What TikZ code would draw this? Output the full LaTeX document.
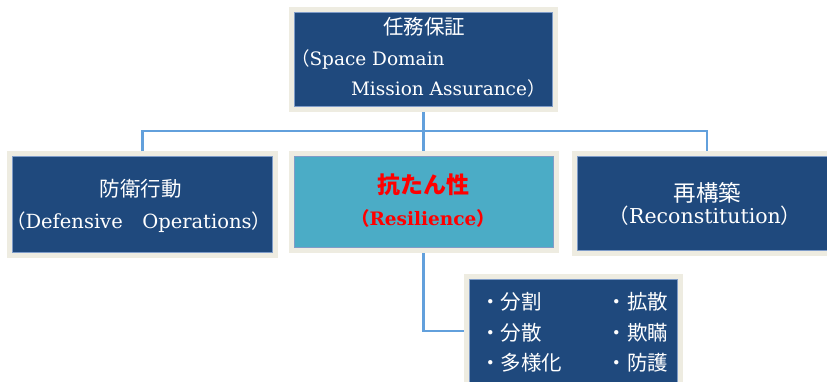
\documentclass[tikz,border=0pt]{standalone}
\usepackage{fontspec}
\setmainfont{DejaVu Serif}
\newfontfamily\jp{Noto Sans CJK JP}
\definecolor{boxblue}{HTML}{1F497D}
\definecolor{frameC}{HTML}{EEECE1}
\definecolor{tealC}{HTML}{4BACC6}
\definecolor{connC}{HTML}{62A0DC}
\definecolor{innerC}{HTML}{7F9CC8}
\begin{document}
\begin{tikzpicture}[x=1pt,y=-1pt,
  frm/.style={draw=frameC, line width=5pt, inner sep=0pt, outer sep=2.5pt,
    path picture={\draw[innerC, line width=0.8pt] ([shift={(3pt,-3pt)}]path picture bounding box.north west) rectangle ([shift={(-3pt,3pt)}]path picture bounding box.south east);}},
  bluebox/.style={frm, fill=boxblue},
  tealbox/.style={frm, fill=tealC},
  txt/.style={inner sep=0pt, outer sep=0pt, text=white},
  conn/.style={draw=connC, line width=2.5pt}]
\clip (0,0) rectangle (827,381);
\fill[white] (0,0) rectangle (827,381);

% boxes
\node[bluebox, minimum width=264pt, minimum height=100pt] (top) at (423.5,59.5) {};
\node[bluebox, minimum width=266pt, minimum height=102pt] (left) at (142.5,204.5) {};
\node[tealbox, minimum width=265pt, minimum height=97pt] (mid) at (423.5,202) {};
\node[bluebox, minimum width=265pt, minimum height=100pt] (right) at (707,203.5) {};
\node[bluebox, minimum width=214pt, minimum height=109pt] (bul) at (573.5,331) {};

% connectors
\coordinate (hub) at (423.5,131);
\draw[conn] (top.south) -- (hub);
\draw[conn] (left.north) |- (hub) -| (right.north);
\draw[conn] (hub) -- (mid.north);
\draw[conn] (mid.south) |- (bul.west);

% top texts
\node[txt, font=\jp\fontsize{20.5}{22}\selectfont] (t1) at (424,27) {任務保証};
\node[txt, anchor=base west, font=\fontsize{18.5}{20}\selectfont] (t2) at (291,65) {{\jp （}Space Domain};
\node[txt, anchor=base west, font=\fontsize{18.5}{20}\selectfont] (t3) at (351,95) {Mission Assurance{\jp ）}};

% left texts
\node[txt, font=\jp\fontsize{20.5}{22}\selectfont] (l1) at (140.5,189) {防衛行動};
\node[txt, anchor=base west, font=\fontsize{19.5}{21}\selectfont] (l2) at (6,228) {{\jp （}Defensive{\jp 　}Operations{\jp ）}};

% middle texts
\node[txt, text=red, font=\jp\bfseries\fontsize{23}{25}\selectfont] (m1) at (423.5,185) {抗たん性};
\node[txt, text=red, anchor=base, font=\bfseries\fontsize{18.5}{20}\selectfont] (m2) at (423,225) {{\jp\bfseries （}Resilience{\jp\bfseries ）}};

% right texts
\node[txt, font=\jp\fontsize{22.5}{24}\selectfont] (r1) at (707.5,193) {再構築};
\node[txt, anchor=base, font=\fontsize{20.5}{22}\selectfont] (r2) at (705,223) {{\jp （}Reconstitution{\jp ）}};

% bullet texts
\node[txt, anchor=west, font=\jp\fontsize{20.5}{22}\selectfont] (b1) at (480,302) {・分割};
\node[txt, anchor=west, font=\jp\fontsize{20.5}{22}\selectfont] (b2) at (480,333) {・分散};
\node[txt, anchor=west, font=\jp\fontsize{20.5}{22}\selectfont] (b3) at (480,363) {・多様化};
\node[txt, anchor=east, font=\jp\fontsize{20.5}{22}\selectfont] (b4) at (668,302) {・拡散};
\node[txt, anchor=east, font=\jp\fontsize{20.5}{22}\selectfont] (b5) at (668,333) {・欺瞞};
\node[txt, anchor=east, font=\jp\fontsize{20.5}{22}\selectfont] (b6) at (668,363) {・防護};
\end{tikzpicture}
\end{document}
